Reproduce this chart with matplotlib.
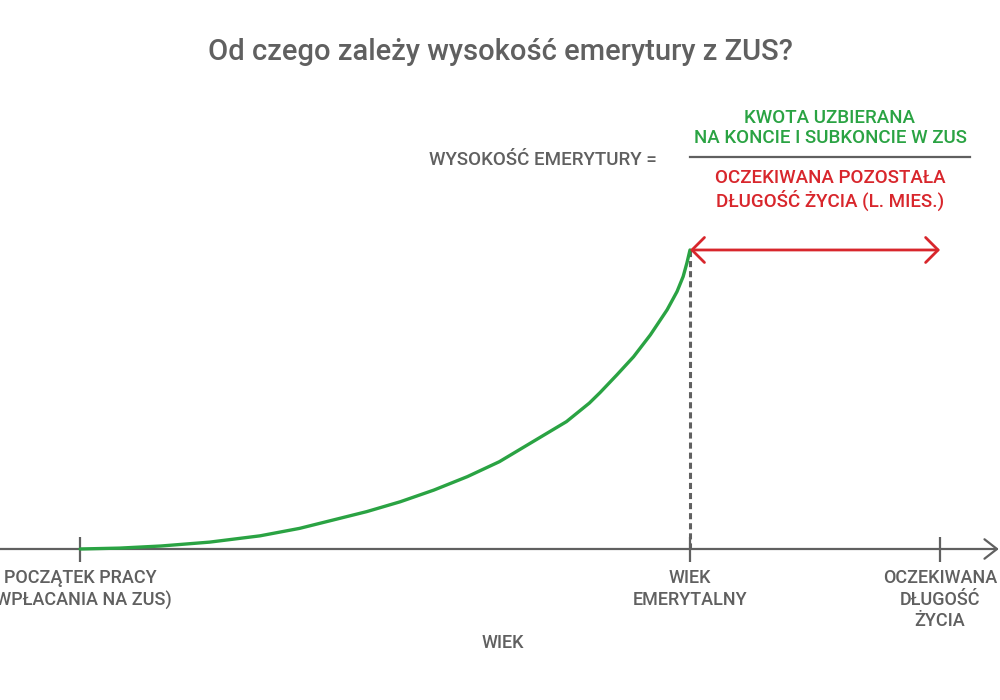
import numpy as np
import matplotlib.pyplot as plt
from matplotlib.lines import Line2D

plt.rcParams['font.family'] = ['Roboto', 'DejaVu Sans']
plt.rcParams['font.weight'] = 'medium'

# Age milestones (years)
age_start = 25
age_retire = 65
age_life = 81.4

# Money collected on the ZUS account (relative, 100 = at retirement)
curve_age = [25.0, 27.6, 30.3, 33.5, 36.8, 39.4, 41.6, 43.8, 46.0, 48.2, 50.4, 52.5,
             54.7, 56.9, 58.4, 59.1, 60.2, 61.3, 62.4, 63.5, 64.15, 64.55, 64.8, 65.0]
curve_value = [0, 0.3, 1.0, 2.3, 4.4, 6.9, 9.7, 12.5, 15.8, 19.7, 24.2, 29.2,
               35.9, 42.6, 48.8, 52.3, 58.2, 64.3, 71.6, 80.0, 86.1, 91.1, 95.7, 100]

tick_ages = [age_start, age_retire, age_life]
tick_labels = ['POCZĄTEK PRACY\n(WPŁACANIA NA ZUS)', 'WIEK\nEMERYTALNY', 'OCZEKIWANA\nDŁUGOŚĆ\nŻYCIA']

title = 'Od czego zależy wysokość emerytury z ZUS?'
formula_left = 'WYSOKOŚĆ EMERYTURY ='
formula_top = 'KWOTA UZBIERANA\nNA KONCIE I SUBKONCIE W ZUS'
formula_bottom = 'OCZEKIWANA POZOSTAŁA\nDŁUGOŚĆ ŻYCIA (L. MIES.)'
xlabel = 'WIEK'

gray = '#606060'
green = '#2aa343'
red = '#d8262c'

fig = plt.figure(figsize=(10, 7), dpi=100)
ax = fig.add_axes([0, 0, 1, 1])
ax.set_xlim(19.75, 85.33)
ax.set_ylim(-50.5, 183.6)
ax.axis('off')

def fx(x):
    return x / 1000

def fy(y):
    return 1 - y / 700

# horizontal axis with arrow
ax.annotate('', xy=(85.25, 0), xytext=(19.75, 0),
            arrowprops=dict(arrowstyle='->,head_length=0.45,head_width=0.35', lw=1.6,
                            color=gray, shrinkA=0, shrinkB=0, mutation_scale=20))
ax.vlines(tick_ages, -4.3, 4.0, color=gray, lw=1.6)

# green curve
ax.plot(curve_age, curve_value, color=green, lw=2.4, solid_capstyle='round',
        solid_joinstyle='round', zorder=3)

# dashed line at retirement
ax.vlines(age_retire, 0, curve_value[-1], color=gray, lw=2.2, linestyles=(0, (2, 1.3)), zorder=2)

# red double arrow
ax.annotate('', xy=(age_life, curve_value[-1]), xytext=(age_retire, curve_value[-1]),
            arrowprops=dict(arrowstyle='<->,head_length=0.45,head_width=0.45', lw=2,
                            color=red, shrinkA=0, shrinkB=0, mutation_scale=20))

# tick labels
for a, lab in zip(tick_ages, tick_labels):
    ax.text(a, -6.7, lab, ha='center', va='top', fontsize=13, color=gray, linespacing=1.25)

fig.text(fx(503), fy(643), xlabel, ha='center', va='center', fontsize=13, color=gray)

# title and formula
fig.text(fx(500), fy(52), title, ha='center', va='center', fontsize=21, color=gray)
fig.text(fx(543), fy(160), formula_left, ha='center', va='center', fontsize=13.5, color=gray)
fig.text(fx(830), fy(128), formula_top, ha='center', va='center', fontsize=13.5, color=green,
         linespacing=1.2)
fig.text(fx(830), fy(190), formula_bottom, ha='center', va='center', fontsize=13.5, color=red,
         linespacing=1.2)
fig.add_artist(Line2D([fx(690), fx(970)], [fy(157), fy(157)], color=gray, lw=1.6,
                      transform=fig.transFigure))

fig.savefig('out.png', dpi=100)
